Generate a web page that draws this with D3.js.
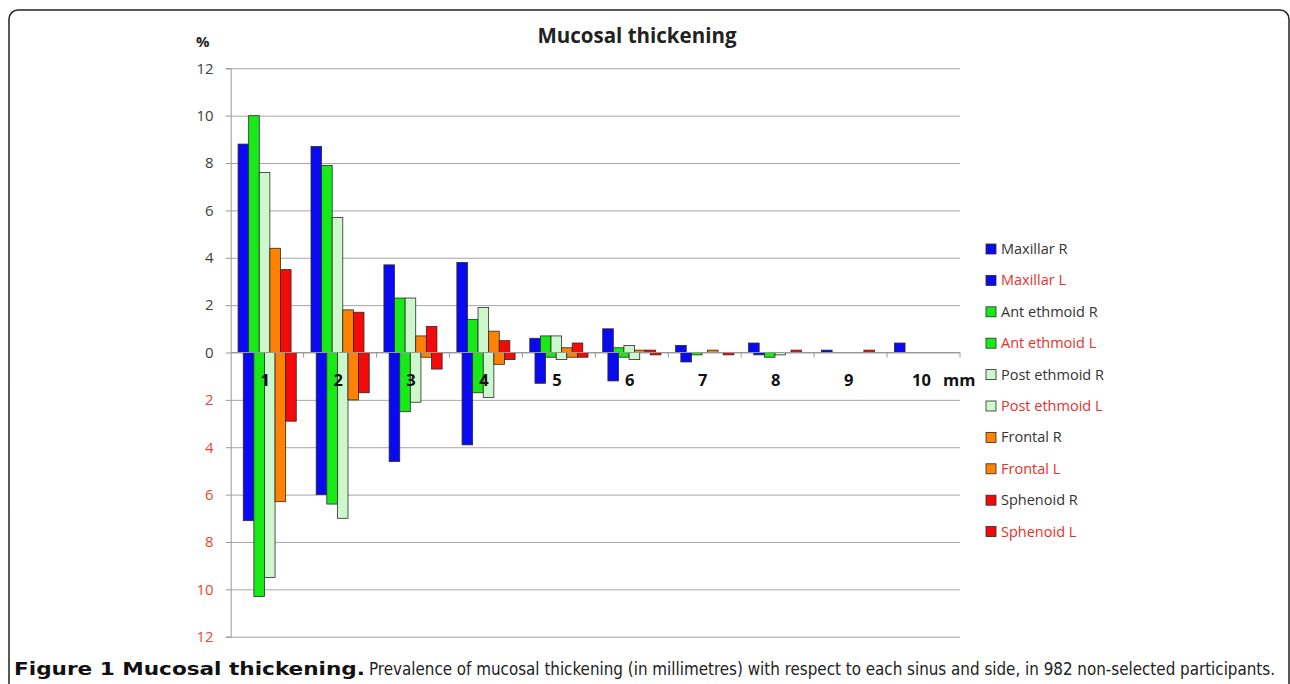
<!DOCTYPE html>
<html>
<head>
<meta charset="utf-8">
<script src="https://cdn.jsdelivr.net/npm/d3@7"></script>
<style>
  body { margin: 0; background: #fff; }
  text { font-family: "Open Sans", "DejaVu Sans", sans-serif; }
  .caption { font-family: "DejaVu Sans Condensed", "Liberation Sans Narrow", "DejaVu Sans", sans-serif; font-stretch: condensed; }
</style>
</head>
<body>
<svg id="chart" width="1290" height="684"></svg>
<script>
// categories (mm of thickening)
var categories = ["1", "2", "3", "4", "5", "6", "7", "8", "9", "10"];
var sinuses = ["Maxillar", "Ant ethmoid", "Post ethmoid", "Frontal", "Sphenoid"];
var colors = ["#0a0af2", "#18ea18", "#ccf8cc", "#ff8205", "#f50a0a"];
var yTicks = [-12, -10, -8, -6, -4, -2, 0, 2, 4, 6, 8, 10, 12];

// right side, % (drawn upwards)
var maxillarR = [8.8, 8.7, 3.7, 3.8, 0.6, 1.0, 0.3, 0.4, 0.1, 0.4];
var antEthmoidR = [10.0, 7.9, 2.3, 1.4, 0.7, 0.2, 0, 0, 0, 0];
var postEthmoidR = [7.6, 5.7, 2.3, 1.9, 0.7, 0.3, 0, 0, 0, 0];
var frontalR = [4.4, 1.8, 0.7, 0.9, 0.2, 0.1, 0.1, 0, 0, 0];
var sphenoidR = [3.5, 1.7, 1.1, 0.5, 0.4, 0.1, 0, 0.1, 0.1, 0];

// left side, % (drawn downwards)
var maxillarL = [7.1, 6.0, 4.6, 3.9, 1.3, 1.2, 0.4, 0.1, 0, 0];
var antEthmoidL = [10.3, 6.4, 2.5, 1.7, 0.2, 0.2, 0.1, 0.2, 0, 0];
var postEthmoidL = [9.5, 7.0, 2.1, 1.9, 0.3, 0.3, 0, 0.1, 0, 0];
var frontalL = [6.3, 2.0, 0.2, 0.5, 0.2, 0, 0, 0, 0, 0];
var sphenoidL = [2.9, 1.7, 0.7, 0.3, 0.2, 0.1, 0.1, 0, 0, 0];

var rightVals = [maxillarR, antEthmoidR, postEthmoidR, frontalR, sphenoidR];
var leftVals = [maxillarL, antEthmoidL, postEthmoidL, frontalL, sphenoidL];

var svg = d3.select("#chart");

// frame
svg.append("rect")
  .attr("x", 9).attr("y", 10)
  .attr("width", 1280).attr("height", 700)
  .attr("rx", 9)
  .attr("fill", "none")
  .attr("stroke", "#222")
  .attr("stroke-width", 1.5);

var plotLeft = 230.7, plotRight = 960, plotTop = 68.3, plotBottom = 636.7;

var xScale = d3.scaleBand().domain(categories).range([plotLeft, plotRight]).padding(0);
var yScale = d3.scaleLinear().domain([-12, 12]).range([plotBottom, plotTop]);
var inner = d3.scaleBand().domain(sinuses).range([0, 53]).padding(0);
var shift = 2.6;

// gridlines
svg.append("g")
  .attr("transform", "translate(" + plotLeft + ",0)")
  .call(d3.axisLeft(yScale).tickValues(yTicks).tickSize(-(plotRight - plotLeft)).tickFormat(""))
  .call(function(g) {
    g.select(".domain").remove();
    g.selectAll("line").attr("stroke", "#a6a6a6").attr("stroke-width", 1);
  });

// y axis with tick labels
var yAxis = svg.append("g")
  .attr("transform", "translate(" + plotLeft + ",0)")
  .call(d3.axisLeft(yScale).tickValues(yTicks).tickSize(5).tickPadding(12)
    .tickFormat(function(d) { return Math.abs(d); }));
yAxis.select(".domain").attr("stroke", "#999");
yAxis.selectAll("line").attr("stroke", "#999");
yAxis.selectAll("text")
  .style("font-size", "15px")
  .style("font-family", "Open Sans, sans-serif")
  .attr("fill", function(d) { return d < 0 ? "#e8453c" : "#404040"; });

// bars
var barData = [];
sinuses.forEach(function(s, si) {
  categories.forEach(function(c, ci) {
    barData.push({ sinus: s, si: si, cat: c, value: rightVals[si][ci], side: "R" });
    barData.push({ sinus: s, si: si, cat: c, value: -leftVals[si][ci], side: "L" });
  });
});
barData = barData.filter(function(d) { return d.value !== 0; });

svg.append("g").selectAll("rect")
  .data(barData)
  .enter().append("rect")
  .attr("x", function(d) {
    return xScale(d.cat) + (xScale.bandwidth() - 53) / 2 + inner(d.sinus) + (d.side === "R" ? -shift : shift);
  })
  .attr("y", function(d) { return yScale(Math.max(0, d.value)); })
  .attr("width", inner.bandwidth())
  .attr("height", function(d) { return Math.abs(yScale(d.value) - yScale(0)); })
  .attr("fill", function(d) { return colors[d.si]; })
  .attr("stroke", "#2a2a2a")
  .attr("stroke-width", 0.8);

// zero axis with category ticks
var xAxis = svg.append("g")
  .attr("transform", "translate(0," + yScale(0) + ")");
xAxis.append("line")
  .attr("x1", plotLeft).attr("x2", plotRight)
  .attr("stroke", "#999").attr("stroke-width", 1.2);
xAxis.selectAll(".tk")
  .data(categories)
  .enter().append("line")
  .attr("x1", function(d) { return xScale(d) + xScale.bandwidth(); })
  .attr("x2", function(d) { return xScale(d) + xScale.bandwidth(); })
  .attr("y1", 0).attr("y2", 5)
  .attr("stroke", "#999");
xAxis.selectAll(".cl")
  .data(categories)
  .enter().append("text")
  .attr("x", function(d) { return xScale(d) + xScale.bandwidth() / 2 - 2; })
  .attr("y", 33)
  .attr("text-anchor", "middle")
  .style("font-size", "16.5px")
  .style("font-weight", "bold")
  .attr("fill", "#111")
  .text(function(d) { return d; });
xAxis.append("text")
  .attr("x", 943).attr("y", 33)
  .style("font-size", "16.5px")
  .style("font-weight", "bold")
  .attr("fill", "#111")
  .text("mm");

// title and unit
svg.append("text")
  .attr("x", 637).attr("y", 43)
  .attr("text-anchor", "middle")
  .style("font-size", "20.5px")
  .style("font-weight", "bold")
  .attr("fill", "#222")
  .text("Mucosal thickening");
svg.append("text")
  .attr("x", 196).attr("y", 47)
  .style("font-size", "15px")
  .style("font-weight", "bold")
  .attr("fill", "#222")
  .text("%");

// legend
var legendItems = [];
sinuses.forEach(function(s, si) {
  legendItems.push({ label: s + " R", si: si, side: "R" });
  legendItems.push({ label: s + " L", si: si, side: "L" });
});
var legend = svg.append("g").selectAll("g")
  .data(legendItems)
  .enter().append("g")
  .attr("transform", function(d, i) { return "translate(986," + (249 + i * 31.4) + ")"; });
legend.append("rect")
  .attr("x", 0).attr("y", -5)
  .attr("width", 10).attr("height", 10)
  .attr("fill", function(d) { return colors[d.si]; })
  .attr("stroke", "#2a2a2a").attr("stroke-width", 0.8);
legend.append("text")
  .attr("x", 15).attr("y", 5)
  .style("font-size", "14.5px")
  .attr("fill", function(d) { return d.side === "R" ? "#333" : "#e8302b"; })
  .text(function(d) { return d.label; });

// caption
svg.append("text")
  .attr("class", "caption")
  .attr("x", 14).attr("y", 675)
  .style("font-size", "17px")
  .style("font-weight", "bold")
  .attr("fill", "#111")
  .attr("textLength", 351)
  .attr("lengthAdjust", "spacingAndGlyphs")
  .text("Figure 1 Mucosal thickening.");
svg.append("text")
  .attr("class", "caption")
  .attr("x", 369).attr("y", 675)
  .style("font-size", "17px")
  .attr("fill", "#222")
  .attr("textLength", 906)
  .attr("lengthAdjust", "spacingAndGlyphs")
  .text("Prevalence of mucosal thickening (in millimetres) with respect to each sinus and side, in 982 non-selected participants.");
</script>
</body>
</html>
